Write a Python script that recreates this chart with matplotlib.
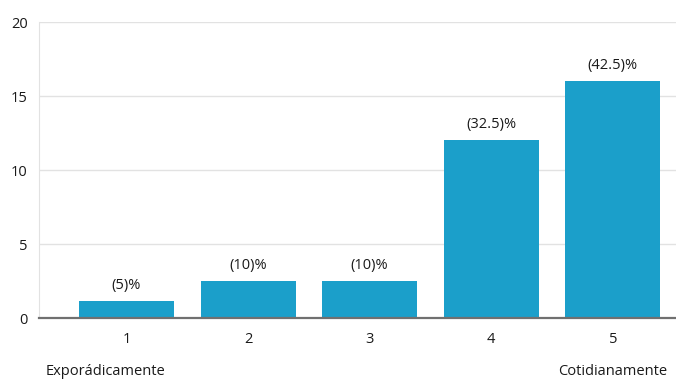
import matplotlib.pyplot as plt

# datos
categorias = [1, 2, 3, 4, 5]
valores = [1.15, 2.5, 2.5, 12, 16]
porcentajes = ["5", "10", "10", "32.5", "42.5"]
etiquetas_y = [0, 5, 10, 15, 20]

plt.rcParams['font.family'] = ['Open Sans', 'DejaVu Sans']

fig = plt.figure(figsize=(6.76, 3.8), dpi=100)
ax = fig.add_axes([39/676, 1 - 318/380, 1 - 39/676, (318 - 22)/380])

azul = '#1b9fca'
barras = ax.bar(categorias, valores, width=0.78, color=azul, zorder=2)

for b, p in zip(barras, porcentajes):
    ax.text(b.get_x() + b.get_width()/2, b.get_height() + 0.55, f"({p})%",
            ha='center', va='bottom', fontsize=10.5, color='#1a1a1a')

ax.set_xlim(0.28, 5.52)
ax.set_ylim(0, 20)
ax.set_yticks(etiquetas_y)
ax.set_xticks(categorias)
ax.tick_params(axis='both', length=0, labelsize=10.5, colors='#1a1a1a')
ax.tick_params(axis='y', pad=8)
ax.tick_params(axis='x', pad=10)

ax.grid(axis='y', color='#e2e2e2', linewidth=1, zorder=0)
for s in ['top', 'right']:
    ax.spines[s].set_visible(False)
ax.spines['left'].set_color('#e2e2e2')
ax.spines['bottom'].set_color('#707070')
ax.spines['bottom'].set_linewidth(1.6)
ax.spines['bottom'].set_zorder(3)

# extremos de la escala
ax.text(1 - 0.17, -0.155, "Exporádicamente", transform=ax.get_xaxis_transform(),
        ha='center', va='top', fontsize=10.5, color='#1a1a1a')
ax.text(5, -0.155, "Cotidianamente", transform=ax.get_xaxis_transform(),
        ha='center', va='top', fontsize=10.5, color='#1a1a1a')

fig.savefig("out.png", dpi=100)
